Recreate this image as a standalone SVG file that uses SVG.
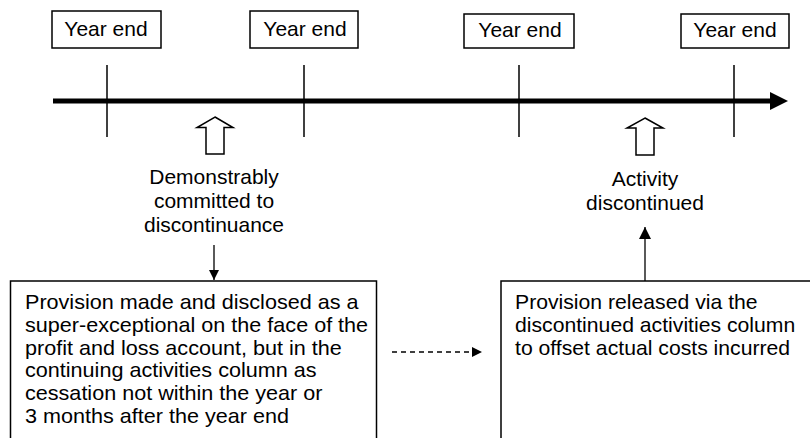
<svg xmlns="http://www.w3.org/2000/svg" width="810" height="438" viewBox="0 0 810 438">
  <defs>
    <style>
      .lbl { font-family: "Liberation Sans", Arial, Helvetica, sans-serif; font-size: 20px; fill: #000; }
      .mid { text-anchor: middle; }
      .box { fill: #fff; stroke: #000; stroke-width: 1.5; }
      .tick { stroke: #000; stroke-width: 1.5; fill: none; }
      .hollow { fill: #fff; stroke: #000; stroke-width: 1.5; stroke-linejoin: miter; }
      .conn { stroke: #000; stroke-width: 1.3; fill: none; }
    </style>
    <marker id="head" viewBox="0 0 10 10" refX="10" refY="5" markerWidth="10" markerHeight="10" markerUnits="userSpaceOnUse" orient="auto">
      <path d="M0,0 L10,5 L0,10 z" fill="#000"/>
    </marker>
    <marker id="headBig" viewBox="0 0 12 12" refX="12" refY="6" markerWidth="12" markerHeight="12" markerUnits="userSpaceOnUse" orient="auto">
      <path d="M0,0 L12,6 L0,12 z" fill="#000"/>
    </marker>
  </defs>

  <rect width="810" height="438" fill="#fff"/>

  <!-- time line -->
  <g id="timeline">
    <line x1="53" y1="101" x2="772" y2="101" stroke="#000" stroke-width="5"/>
    <polygon points="770,92 788,101 770,110" fill="#000"/>
    <line class="tick" x1="107" y1="65" x2="107" y2="137"/>
    <line class="tick" x1="304" y1="65" x2="304" y2="137"/>
    <line class="tick" x1="519" y1="65" x2="519" y2="137"/>
    <line class="tick" x1="734" y1="65" x2="734" y2="137"/>
  </g>

  <!-- year-end markers -->
  <g id="ye1">
    <rect class="box" x="52" y="11" width="109" height="37"/>
    <text class="lbl mid" transform="translate(106,36) scale(1.05,1)">Year end</text>
  </g>
  <g id="ye2">
    <rect class="box" x="250" y="11" width="108" height="37"/>
    <text class="lbl mid" transform="translate(305,36) scale(1.05,1)">Year end</text>
  </g>
  <g id="ye3">
    <rect class="box" x="464" y="14" width="110" height="34"/>
    <text class="lbl mid" transform="translate(520,37) scale(1.05,1)">Year end</text>
  </g>
  <g id="ye4">
    <rect class="box" x="681" y="14" width="108" height="34"/>
    <text class="lbl mid" transform="translate(735,37) scale(1.05,1)">Year end</text>
  </g>

  <!-- event: commitment -->
  <g id="commit">
    <polygon class="hollow" points="215,117 233,127.5 224,127.5 224,154 206,154 206,127.5 197,127.5"/>
    <text class="lbl mid" transform="translate(214,184) scale(1.05,1)">Demonstrably</text>
    <text class="lbl mid" transform="translate(214,208) scale(1.05,1)">committed to</text>
    <text class="lbl mid" transform="translate(214,232) scale(1.05,1)">discontinuance</text>
  </g>

  <!-- event: cessation -->
  <g id="cease">
    <polygon class="hollow" points="645,118 663,128 654,128 654,155 636,155 636,128 627,128"/>
    <text class="lbl mid" transform="translate(645,186) scale(1.05,1)">Activity</text>
    <text class="lbl mid" transform="translate(645,210) scale(1.05,1)">discontinued</text>
  </g>

  <!-- provision made -->
  <g id="provMade">
    <rect class="box" x="10.5" y="281" width="366" height="170"/>
    <text class="lbl" transform="translate(25,309) scale(1.08,1)">Provision made and disclosed as a</text>
    <text class="lbl" transform="translate(25,331.8) scale(1.08,1)">super-exceptional on the face of the</text>
    <text class="lbl" transform="translate(25,354.6) scale(1.08,1)">profit and loss account, but in the</text>
    <text class="lbl" transform="translate(25,377.4) scale(1.08,1)">continuing activities column as</text>
    <text class="lbl" transform="translate(25,400.2) scale(1.08,1)">cessation not within the year or</text>
    <text class="lbl" transform="translate(25,423) scale(1.08,1)">3 months after the year end</text>
  </g>

  <!-- provision released -->
  <g id="provReleased">
    <rect class="box" x="501" y="281" width="330" height="170"/>
    <text class="lbl" transform="translate(515,309) scale(1.06,1)">Provision released via the</text>
    <text class="lbl" transform="translate(515,331.8) scale(1.06,1)">discontinued activities column</text>
    <text class="lbl" transform="translate(515,354.6) scale(1.06,1)">to offset actual costs incurred</text>
  </g>

  <!-- connectors -->
  <g id="connectors">
    <line class="conn" x1="214" y1="245" x2="214" y2="280" marker-end="url(#head)"/>
    <line class="conn" x1="645" y1="281" x2="645" y2="227" marker-end="url(#headBig)"/>
    <line class="conn" x1="392" y1="352" x2="482" y2="352" stroke-dasharray="5,4" marker-end="url(#head)"/>
  </g>
</svg>
